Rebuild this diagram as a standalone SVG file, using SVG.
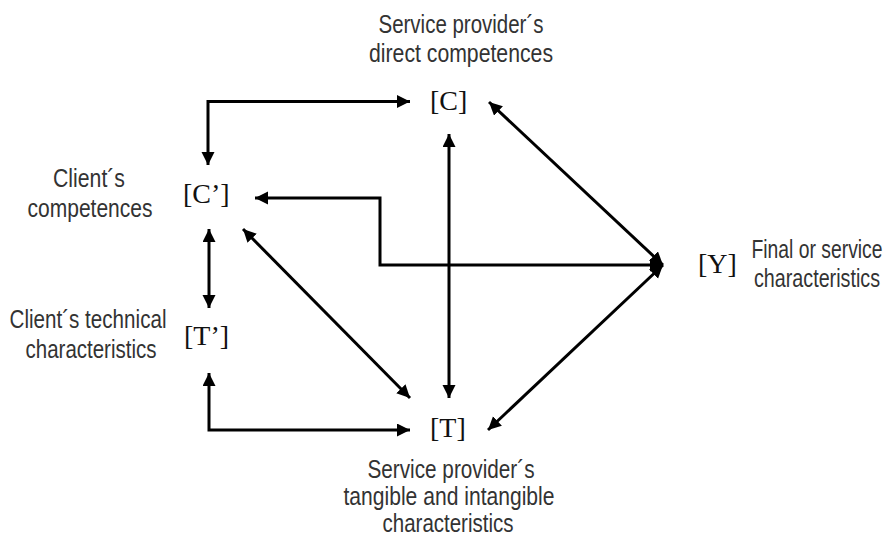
<svg xmlns="http://www.w3.org/2000/svg" width="894" height="536" viewBox="0 0 894 536">
<style>
.lbl{font-family:"Liberation Sans",Arial,sans-serif;font-size:26px;fill:#333;text-anchor:middle}
.sym{font-family:"Liberation Serif","Times New Roman",serif;font-size:28px;fill:#111}
.ln{fill:none;stroke:#000;stroke-width:3;marker-end:url(#ah)}
.bi{marker-start:url(#ah)}
</style>
<defs>
<marker id="ah" markerUnits="userSpaceOnUse" markerWidth="14" markerHeight="14" refX="13" refY="6.5" orient="auto-start-reverse">
<path d="M0,0 L13,6.5 L0,13 Z" fill="#000"/>
</marker>
</defs>
<rect width="894" height="536" fill="#fff"/>
<g id="connectors">
<path class="ln bi" d="M208,165 L208,101.5 L410,101.5"/>
<path class="ln bi" d="M209,229 L209,308"/>
<path class="ln bi" d="M209,373 L209,430 L410,430"/>
<path class="ln bi" d="M243,229 L410,398"/>
<path class="ln bi" d="M449,134 L449,398"/>
<path class="ln bi" d="M663,265 L380,265 L380,198 L255,198"/>
<path class="ln bi" d="M489,102 L663,265"/>
<path class="ln bi" d="M488,430 L663,265"/>
</g>
<g id="node-C">
<text class="sym" x="430" y="110">[C]</text>
<text class="lbl" x="461" y="33" textLength="165" lengthAdjust="spacingAndGlyphs">Service provider´s</text>
<text class="lbl" x="461" y="62" textLength="184" lengthAdjust="spacingAndGlyphs">direct competences</text>
</g>
<g id="node-Cp">
<text class="sym" x="183" y="203">[C’]</text>
<text class="lbl" x="89" y="187" textLength="72" lengthAdjust="spacingAndGlyphs">Client´s</text>
<text class="lbl" x="90" y="217" textLength="125" lengthAdjust="spacingAndGlyphs">competences</text>
</g>
<g id="node-Tp">
<text class="sym" x="184" y="345">[T’]</text>
<text class="lbl" x="88" y="328" textLength="157" lengthAdjust="spacingAndGlyphs">Client´s technical</text>
<text class="lbl" x="91" y="358" textLength="131" lengthAdjust="spacingAndGlyphs">characteristics</text>
</g>
<g id="node-T">
<text class="sym" x="430" y="437">[T]</text>
<text class="lbl" x="451" y="478" textLength="167" lengthAdjust="spacingAndGlyphs">Service provider´s</text>
<text class="lbl" x="449" y="505" textLength="211" lengthAdjust="spacingAndGlyphs">tangible and intangible</text>
<text class="lbl" x="448" y="532" textLength="131" lengthAdjust="spacingAndGlyphs">characteristics</text>
</g>
<g id="node-Y">
<text class="sym" x="698" y="273">[Y]</text>
<text class="lbl" x="817" y="258" textLength="131" lengthAdjust="spacingAndGlyphs">Final or service</text>
<text class="lbl" x="817" y="287" textLength="126" lengthAdjust="spacingAndGlyphs">characteristics</text>
</g>
</svg>
